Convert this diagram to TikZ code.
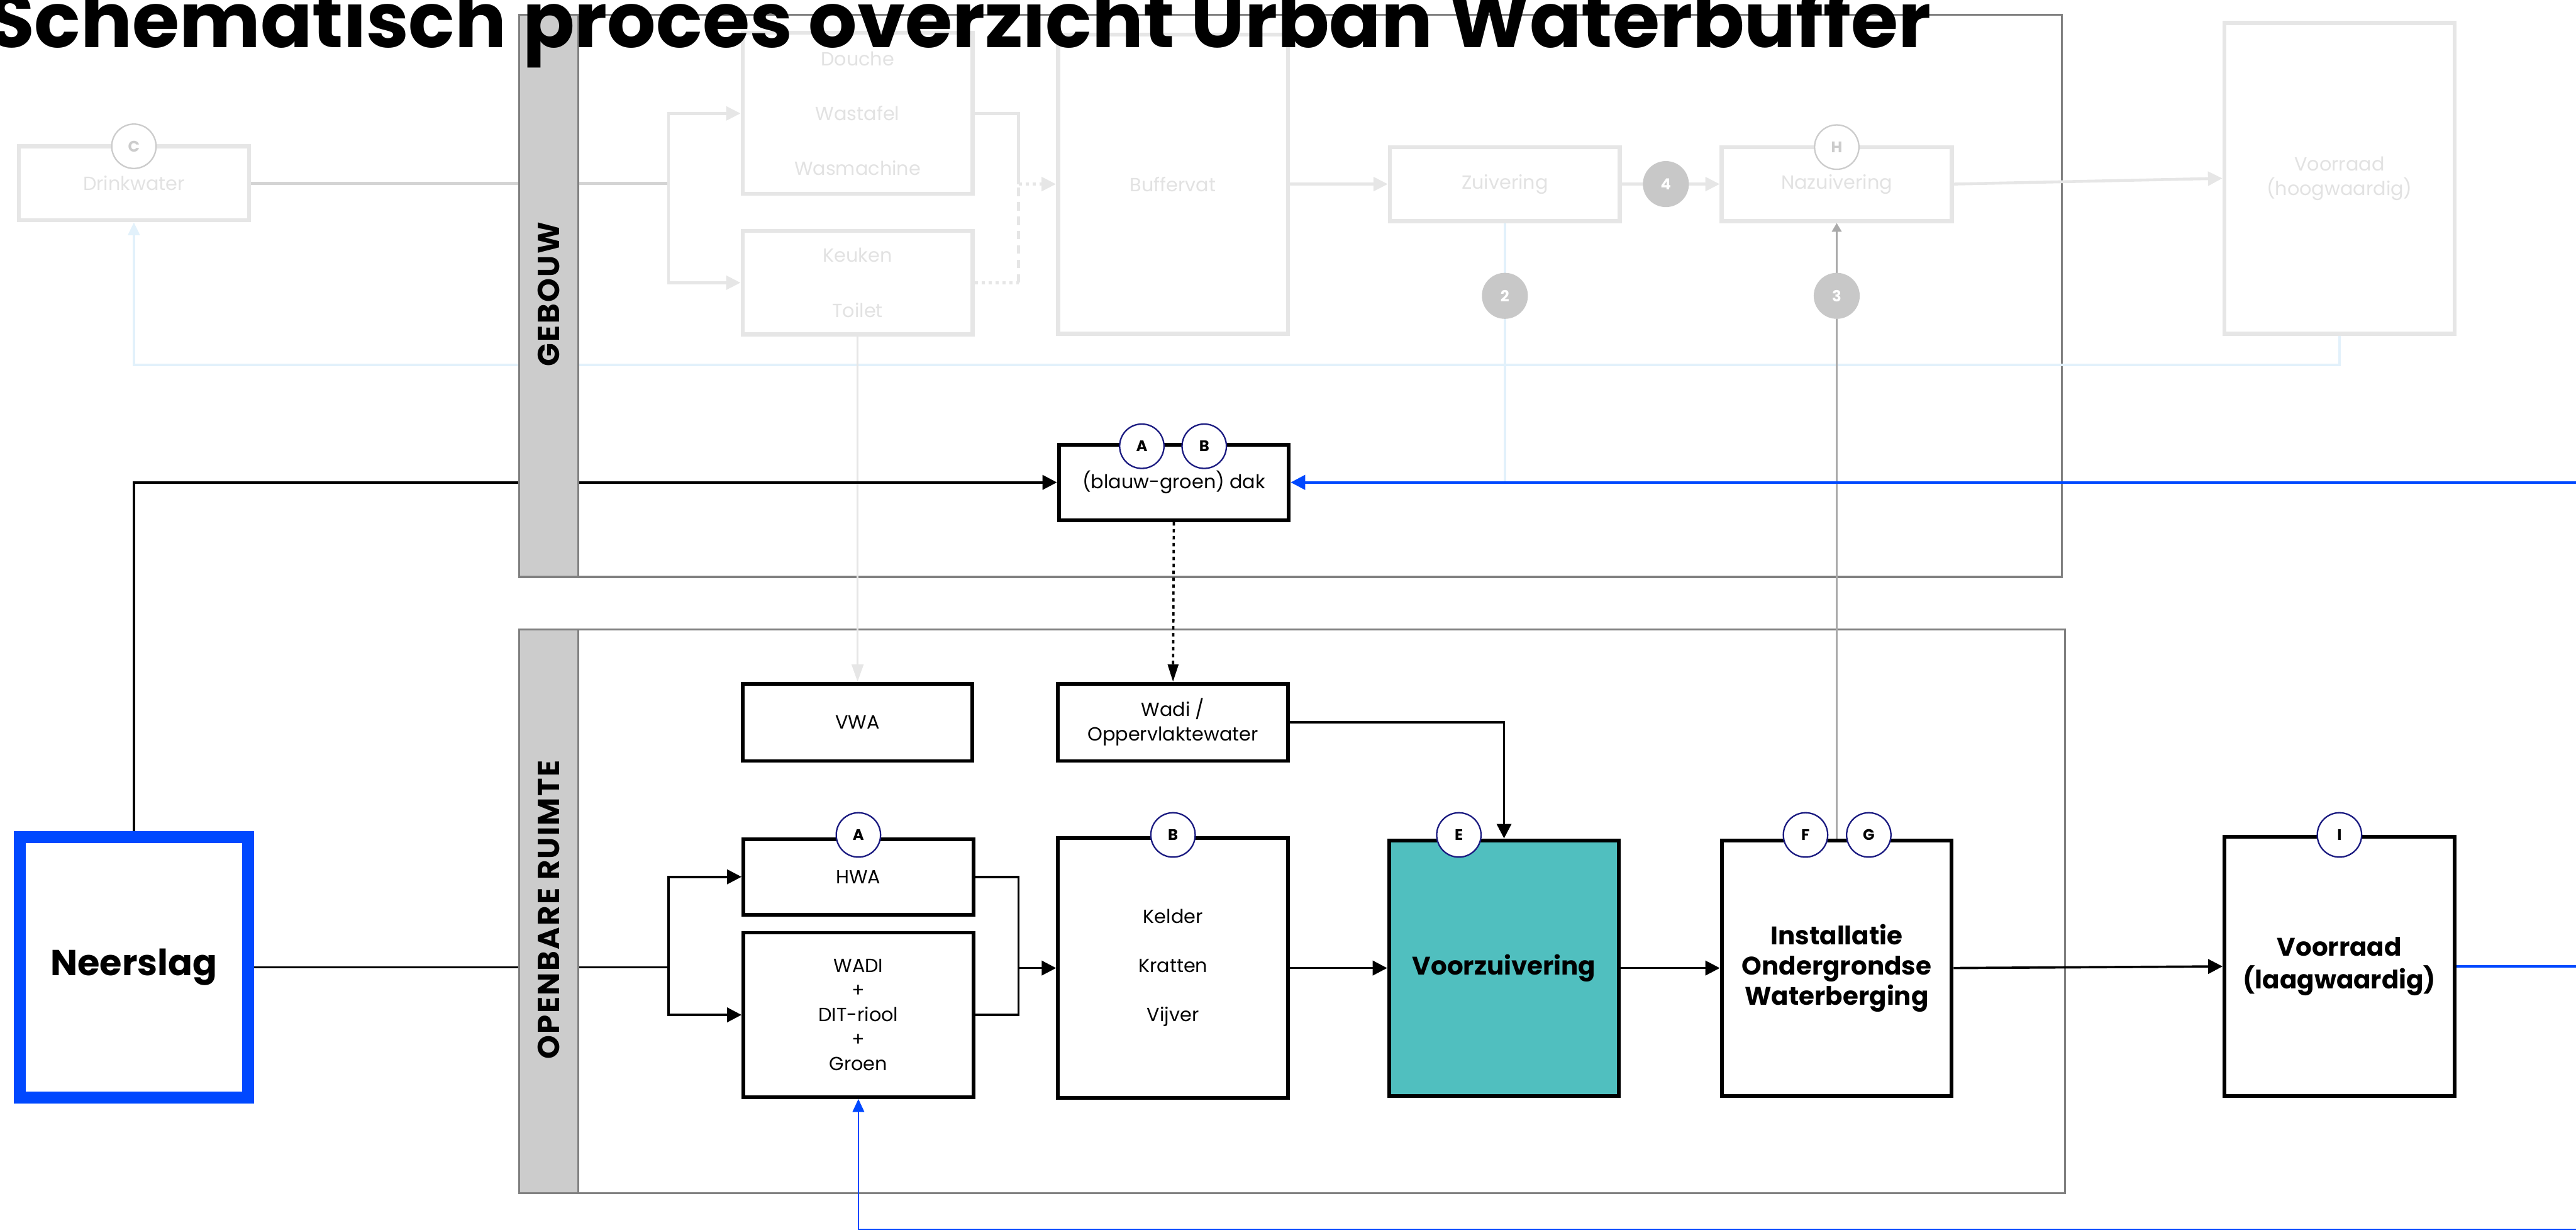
\documentclass[tikz,border=0pt]{standalone}
\usepackage{fontspec}
\setmainfont{Poppins}
\usetikzlibrary{arrows.meta}

\definecolor{bluewater}{RGB}{0,72,255}
\definecolor{tealbox}{RGB}{80,191,191}
\definecolor{navyring}{RGB}{26,26,128}
\definecolor{ghostline}{RGB}{230,230,230}
\definecolor{ghosttext}{RGB}{226,226,226}
\definecolor{ghostring}{RGB}{204,204,204}
\definecolor{pipegrey}{RGB}{212,212,212}
\definecolor{paleblue}{RGB}{226,241,251}
\definecolor{bandfill}{RGB}{204,204,204}
\definecolor{bandline}{RGB}{128,128,128}
\definecolor{numfill}{RGB}{200,200,200}
\definecolor{riser}{RGB}{170,170,170}

\tikzset{
  box/.style={draw, line width=1.3pt, fill=white, minimum width=28mm, inner sep=0pt,
    align=center, font=\fontsize{6.6}{8}\selectfont},
  boldbox/.style={box, font=\bfseries\fontsize{8.8}{10.4}\selectfont},
  ghostbox/.style={box, draw=ghostline, line width=1.4pt, text=ghosttext},
  rainbox/.style={draw=bluewater, line width=4pt, fill=white, minimum width=27.8mm,
    minimum height=31.7mm, font=\bfseries\fontsize{12.5}{14}\selectfont},
  tag/.style={circle, draw=navyring, fill=white, line width=0.5pt, minimum size=5.4mm,
    inner sep=0pt, font=\bfseries\fontsize{5.3}{6}\selectfont},
  ghosttag/.style={tag, draw=ghostring, text=ghostring},
  numtag/.style={circle, fill=numfill, text=white, minimum size=5.6mm, inner sep=0pt,
    font=\bfseries\fontsize{5.3}{6}\selectfont},
  bandbox/.style={draw=bandline, line width=0.8pt},
  bandbar/.style={draw=bandline, fill=bandfill, line width=0.8pt},
  bandlabel/.style={rotate=90, font=\bfseries\fontsize{10.5}{11}\selectfont\addfontfeature{LetterSpace=5}},
  line/.style={line width=0.8pt},
  flow/.style={line, -{Triangle[length=5pt,width=5pt]}},
  dotflow/.style={flow, dash pattern=on 1.2pt off 1.2pt},
  blueline/.style={draw=bluewater, line width=0.9pt},
  blueflow/.style={blueline, -{Triangle[length=5pt,width=5pt]}},
  bluein/.style={draw=bluewater, line width=0.6pt, -{Triangle[length=4.5pt,width=4pt]}},
  ghostpipe/.style={draw=ghostline, line width=1pt},
  ghostflow/.style={ghostpipe, -{Triangle[length=5pt,width=4.8pt]}},
  ghostdot/.style={ghostpipe, dash pattern=on 1.2pt off 1.2pt},
  ghostdash/.style={ghostpipe, dash pattern=on 3pt off 2pt},
  paleline/.style={draw=paleblue, line width=1pt},
}

\begin{document}
\begin{tikzpicture}[x=0.2mm, y=-0.2mm]
\useasboundingbox (0,0) rectangle (1568,748.3);

% kaders
\draw[bandbox] (316,9) rectangle (1255,351);
\draw[bandbox] (316,383) rectangle (1257,726);

% gebouw (vervaagd)
\node[ghostbox, minimum height=9mm] (drink) at (81.5,111.5) {Drinkwater};
\node[ghostbox, minimum height=19.6mm, font=\fontsize{6.6}{19}\selectfont] (douche) at (522,69) {Douche\\Wastafel\\Wasmachine};
\node[ghostbox, minimum height=12.6mm, font=\fontsize{6.6}{19}\selectfont] (keuken) at (522,172) {Keuken\\Toilet};
\node[ghostbox, minimum height=36.4mm] (buffer) at (714,112) {Buffervat};
\node[ghostbox, minimum height=9mm] (zuiv) at (916,112) {Zuivering};
\node[ghostbox, minimum height=9mm] (nazuiv) at (1118,112) {Nazuivering};
\node[ghostbox, minimum height=37.8mm, font=\fontsize{6.6}{8.5}\selectfont] (hoog) at (1424,108.5) {Voorraad\\(hoogwaardig)};

% openbare ruimte
\node[box, minimum height=9.2mm] (dak) at (714.5,293.5) {(blauw-groen) dak};
\node[box, minimum height=9.4mm] (vwa) at (522,439.5) {VWA};
\node[box, minimum height=9.4mm, font=\fontsize{6.6}{8.5}\selectfont] (wadiO) at (714,439.5) {Wadi /\\Oppervlaktewater};
\node[rainbox] (neer) at (81.5,588.5) {Neerslag};
\node[box, minimum height=9.2mm] (hwa) at (522.5,533.5) {HWA};
\node[box, minimum height=20mm, font=\fontsize{6.6}{8.5}\selectfont] (wadi) at (522.5,617.5) {WADI\\+\\DIT-riool\\+\\Groen};
\node[box, minimum height=31.6mm, font=\fontsize{6.6}{17}\selectfont] (kelder) at (714,589) {Kelder\\Kratten\\Vijver};
\node[boldbox, fill=tealbox, minimum height=31.1mm] (voorz) at (915.5,589) {Voorzuivering};
\node[boldbox, minimum height=31.1mm] (inst) at (1118,589) {Installatie\\Ondergrondse\\Waterberging};
\node[boldbox, minimum height=31.6mm, font=\bfseries\fontsize{8.8}{11.4}\selectfont] (laag) at (1424,588) {Voorraad\\(laagwaardig)};

% hulppunten
\coordinate (splitG) at (407,111.5);
\coordinate (joinG) at (620,112);
\coordinate (kDot) at (620,172);
\coordinate (zDrop) at (916,293.5);
\coordinate (retR) at (1424,222);
\coordinate (retL) at (81.5,222);
\coordinate (inR) at (1568,293.5);
\coordinate (splitL) at (407,588.5);
\coordinate (joinR) at (620,589);
\coordinate (outR) at (1568,588);
\coordinate (botR) at (1568,748);

% leidingen gebouw
\draw[ghostpipe, draw=pipegrey] (drink.east) -- (splitG);
\draw[ghostflow] (splitG) |- (douche.west);
\draw[ghostflow] (splitG) |- (keuken.west);
\draw[ghostpipe] (douche.east) -| (joinG);
\draw[ghostdot] (keuken.east) -- (kDot);
\draw[ghostdash] (kDot) -- (joinG);
\draw[ghostdot, -{Triangle[length=5pt,width=4.8pt]}] (joinG) -- (buffer.west);
\draw[ghostflow] (buffer.east) -- (zuiv.west);
\draw[ghostflow] (zuiv.east) -- (nazuiv.west);
\draw[ghostflow] (nazuiv.east) -- (hoog.west);
\draw[paleline] (zuiv.south) -- (zDrop);
\draw[paleline, -{Triangle[length=4.5pt,width=4pt]}] (hoog.south) -- (retR) -- (retL) -- (drink.south);
\draw[draw=ghostline, line width=0.8pt, -{Triangle[length=6pt,width=4pt]}] (keuken.south) -- (vwa.north);
\draw[draw=riser, line width=0.5pt, -{Triangle[length=3pt,width=3.4pt]}] (inst.north) -- (nazuiv.south);

% leidingen openbare ruimte
\draw[flow] (neer.north) |- (dak.west);
\draw[blueflow] (inR) -- (dak.east);
\draw[dotflow, -{Triangle[length=6pt,width=3.6pt]}] (dak.south) -- (wadiO.north);
\draw[flow] (wadiO.east) -| (voorz.north);
\draw[line] (neer.east) -- (splitL);
\draw[flow] (splitL) |- (hwa.west);
\draw[flow] (splitL) |- (wadi.west);
\draw[line] (hwa.east) -| (joinR);
\draw[line] (wadi.east) -| (joinR);
\draw[flow] (joinR) -- (kelder.west);
\draw[flow] (kelder.east) -- (voorz.west);
\draw[flow] (voorz.east) -- (inst.west);
\draw[flow] (inst.east) -- (laag.west);
\draw[blueline] (laag.east) -- (outR);
\draw[bluein] (botR) -| (wadi.south);

% zijbalken
\draw[bandbar] (316,9) rectangle (352,351);
\draw[bandbar] (316,383) rectangle (352,726);
\node[bandlabel] (gebouw) at (334,179) {GEBOUW};
\node[bandlabel] (openbaar) at (334,553.5) {OPENBARE RUIMTE};

% letters en nummers
\node[ghosttag] (tC) at (81.5,89) {C};
\node[ghosttag] (tH) at (1118,89.5) {H};
\node[numtag] (n4) at (1014,112) {4};
\node[numtag] (n2) at (916,180) {2};
\node[numtag] (n3) at (1118,180) {3};
\node[tag] (tA1) at (695,271.5) {A};
\node[tag] (tB1) at (733,271.5) {B};
\node[tag] (tA2) at (522.5,508) {A};
\node[tag] (tB2) at (714,508) {B};
\node[tag] (tE) at (888,508) {E};
\node[tag] (tF) at (1099,508) {F};
\node[tag] (tG) at (1137.5,508) {G};
\node[tag] (tI) at (1424,508) {I};

% titel
\node[anchor=base west, inner sep=0pt, font=\bfseries\fontsize{26.5}{27}\selectfont] (titel) at (-8,29) {Schematisch proces overzicht Urban Waterbuffer};
\end{tikzpicture}
\end{document}
